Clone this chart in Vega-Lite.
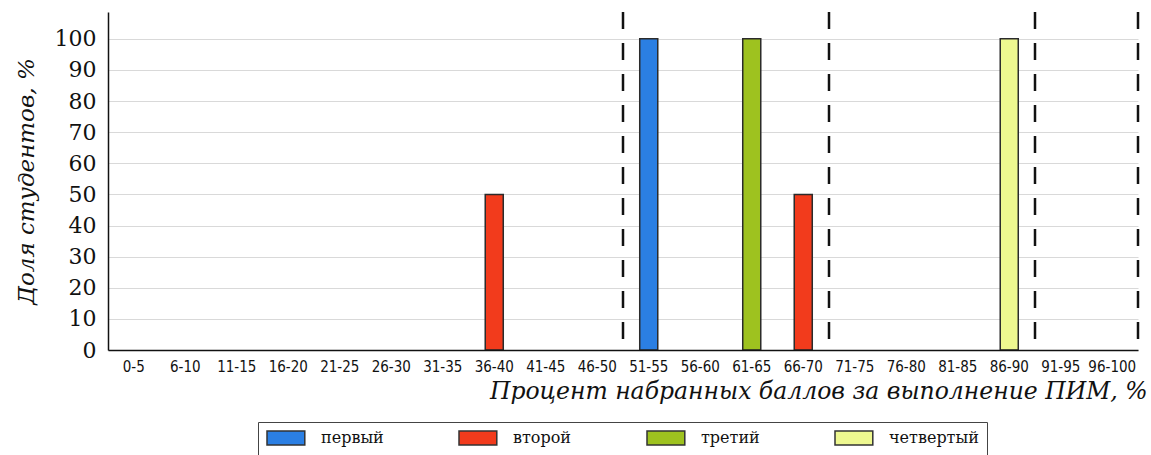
{
  "$schema": "https://vega.github.io/schema/vega-lite/v6.json",
  "width": 1030,
  "height": 338,
  "autosize": "none",
  "padding": {"left": 108, "top": 12, "right": 13, "bottom": 105},
  "background": "white",
  "config": {"view": {"stroke": null}},
  "datasets": {
    "bars": [
      {"range": "36-40", "group": "второй", "share": 50},
      {"range": "51-55", "group": "первый", "share": 100},
      {"range": "61-65", "group": "третий", "share": 100},
      {"range": "66-70", "group": "второй", "share": 50},
      {"range": "86-90", "group": "четвертый", "share": 100}
    ],
    "bounds": [{"range": "51-55"}, {"range": "71-75"}, {"range": "91-95"}],
    "end": [{"range": "96-100"}]
  },
  "layer": [
    {
      "data": {"name": "bars"},
      "mark": {"type": "bar", "width": {"band": 0.35}, "stroke": "#2b2b2b", "strokeWidth": 1.5},
      "encoding": {
        "x": {
          "field": "range",
          "type": "nominal",
          "sort": null,
          "title": "Процент набранных баллов за выполнение ПИМ, %",
          "scale": {
            "domain": ["0-5", "6-10", "11-15", "16-20", "21-25", "26-30", "31-35", "36-40", "41-45", "46-50", "51-55", "56-60", "61-65", "66-70", "71-75", "76-80", "81-85", "86-90", "91-95", "96-100"],
            "paddingInner": 0,
            "paddingOuter": 0
          },
          "axis": {
            "labelAngle": 0,
            "labelFont": "DejaVu Sans Condensed, Open Sans",
            "labelFontSize": 15,
            "labelColor": "#111",
            "labelPadding": 9,
            "labelOverlap": false,
            "ticks": false,
            "domainColor": "#111",
            "domainWidth": 1.5,
            "zindex": 1,
            "titleFont": "DejaVu Serif",
            "titleFontStyle": "italic",
            "titleFontWeight": "normal",
            "titleFontSize": 23.5,
            "titleColor": "#111",
            "titleX": 1039,
            "titleY": 48,
            "titleAlign": "right",
            "titleBaseline": "alphabetic"
          }
        },
        "y": {
          "field": "share",
          "type": "quantitative",
          "stack": null,
          "title": "Доля студентов, %",
          "scale": {"domain": [0, 108.6], "nice": false},
          "axis": {
            "values": [0, 10, 20, 30, 40, 50, 60, 70, 80, 90, 100],
            "grid": true,
            "gridColor": "#d9d9d9",
            "gridWidth": 1,
            "ticks": false,
            "domainColor": "#111",
            "domainWidth": 1.5,
            "labelFont": "DejaVu Serif",
            "labelFontSize": 22,
            "labelColor": "#111",
            "labelPadding": 12,
            "titleFont": "DejaVu Serif",
            "titleFontStyle": "italic",
            "titleFontWeight": "normal",
            "titleFontSize": 23,
            "titleColor": "#111",
            "titlePadding": 16
          }
        },
        "color": {
          "field": "group",
          "type": "nominal",
          "scale": {
            "domain": ["первый", "второй", "третий", "четвертый"],
            "range": ["#2b7fe3", "#f23b1c", "#9ec21f", "#eef890"]
          },
          "legend": {
            "title": null,
            "orient": "none",
            "legendX": 150,
            "legendY": 410,
            "direction": "horizontal",
            "columns": 4,
            "symbolType": "M-1,-1H4.4V1H-1Z",
            "symbolSize": 196,
            "symbolStrokeColor": "#333",
            "symbolStrokeWidth": 1.5,
            "symbolOpacity": 1,
            "labelFont": "DejaVu Serif",
            "labelFontSize": 16,
            "labelColor": "#111",
            "labelOffset": 39,
            "columnPadding": 72,
            "padding": 8,
            "strokeColor": "#444",
            "fillColor": "white"
          }
        }
      }
    },
    {
      "data": {"name": "bounds"},
      "mark": {"type": "rule", "strokeDash": [17, 14], "strokeWidth": 2.5, "color": "#111"},
      "encoding": {
        "x": {"field": "range", "type": "nominal", "bandPosition": 0, "title": "Процент набранных баллов за выполнение ПИМ, %"}
      }
    },
    {
      "data": {"name": "end"},
      "mark": {"type": "rule", "strokeDash": [17, 14], "strokeWidth": 2.5, "color": "#111"},
      "encoding": {
        "x": {"field": "range", "type": "nominal", "bandPosition": 1, "title": "Процент набранных баллов за выполнение ПИМ, %"}
      }
    }
  ]
}
